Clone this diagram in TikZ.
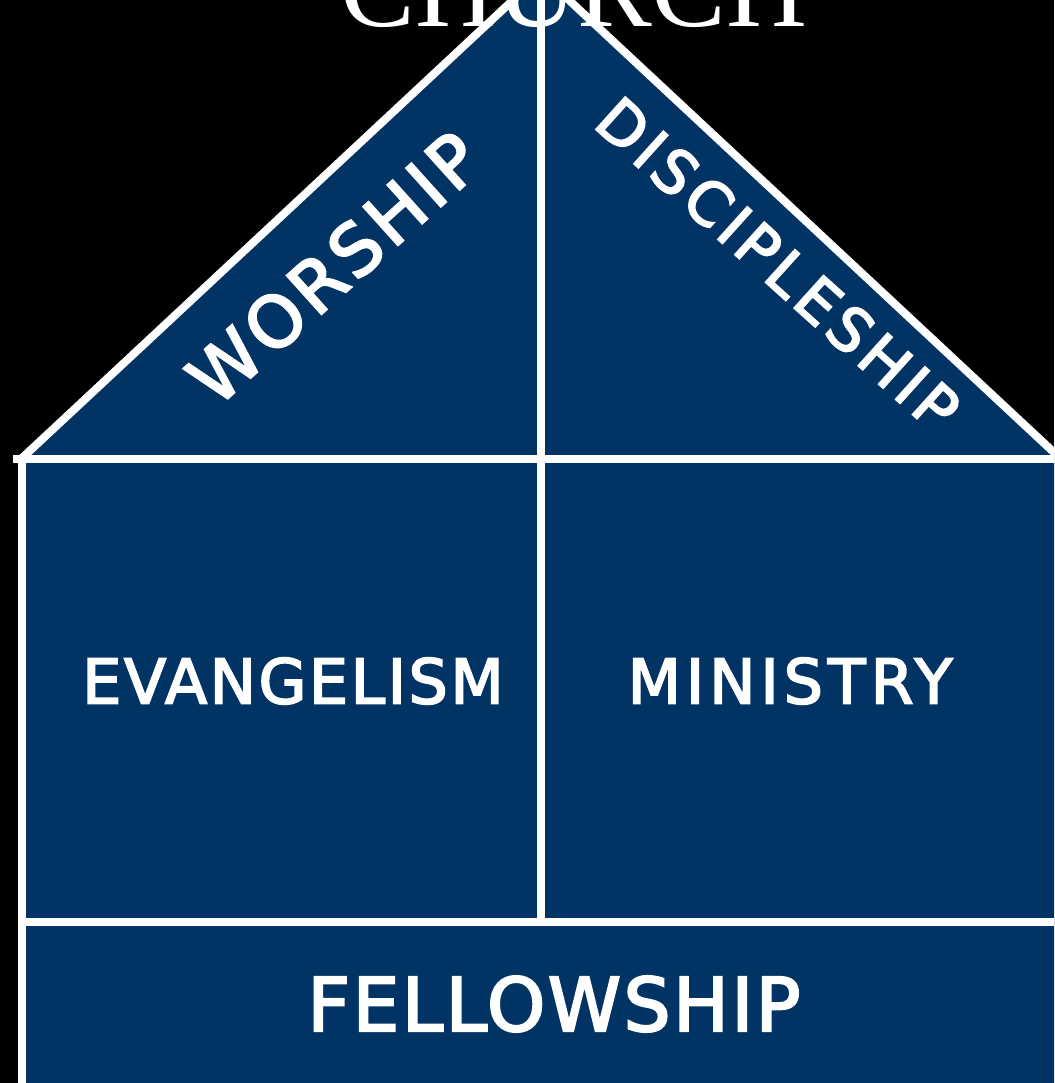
\documentclass[tikz,border=0pt]{standalone}
\usepackage{fontspec}
\newfontfamily\labelfont[FakeBold=3]{DejaVu Sans}
\newfontfamily\titlefont{Liberation Serif}
\definecolor{houseblue}{RGB}{2,51,101}
\begin{document}
\begin{tikzpicture}[x=1pt,y=-1pt,
  wline/.style={draw=white,line width=8pt,line join=miter},
  lbl/.style={text=white,inner sep=0pt,anchor=center}]
\useasboundingbox (0,0) rectangle (1054,1083);
\clip (0,0) rectangle (1054,1083);
\fill[black] (0,0) rectangle (1054,1083);
% coordinates
\coordinate (apex) at (541,-26);
\coordinate (eaveL) at (21,459);
\coordinate (eaveR) at (1061,459);
\coordinate (hL) at (13,459);
\coordinate (hR) at (1070,459);
\coordinate (wallB) at (22,1095);
\coordinate (midT) at (541,-40);
\coordinate (midB) at (541,922);
\coordinate (fL) at (22,922);
\coordinate (fR) at (1070,922);
% house fill
\fill[houseblue] (apex) -- (eaveR) -- (1070,459) -- (1070,1095) -- (wallB) -- (eaveL) -- cycle;
% white lines
\draw[wline] (eaveL) -- (apex) -- (eaveR);
\draw[wline] (hL) -- (hR);
\draw[wline] (22,459) -- (wallB);
\draw[wline] (midT) -- (midB);
\draw[wline] (fL) -- (fR);
% labels
\node[lbl,rotate=42,font=\labelfont\fontsize{71}{71}\selectfont\addfontfeature{LetterSpace=6}] (worship) at (334,268) {WORSHIP};
\node[lbl,rotate=-42,font=\labelfont\fontsize{60}{60}\selectfont\addfontfeature{LetterSpace=8.5}] (disc) at (778,264) {DISCIPLESHIP};
\node[lbl,font=\labelfont\fontsize{61.7}{62}\selectfont\addfontfeature{LetterSpace=4.3}] (evang) at (293,681) {EVANGELISM};
\node[lbl,font=\labelfont\fontsize{61.7}{62}\selectfont\addfontfeature{LetterSpace=8.2}] (minis) at (790,681) {MINISTRY};
\node[lbl,font=\labelfont\fontsize{74}{74}\selectfont\addfontfeature{LetterSpace=3.5}] (fellow) at (554,1004) {FELLOWSHIP};
\node[text=white,inner sep=0pt,anchor=base,font=\titlefont\fontsize{112}{112}\selectfont] (church) at (574,27) {CHURCH};
\end{tikzpicture}
\end{document}
